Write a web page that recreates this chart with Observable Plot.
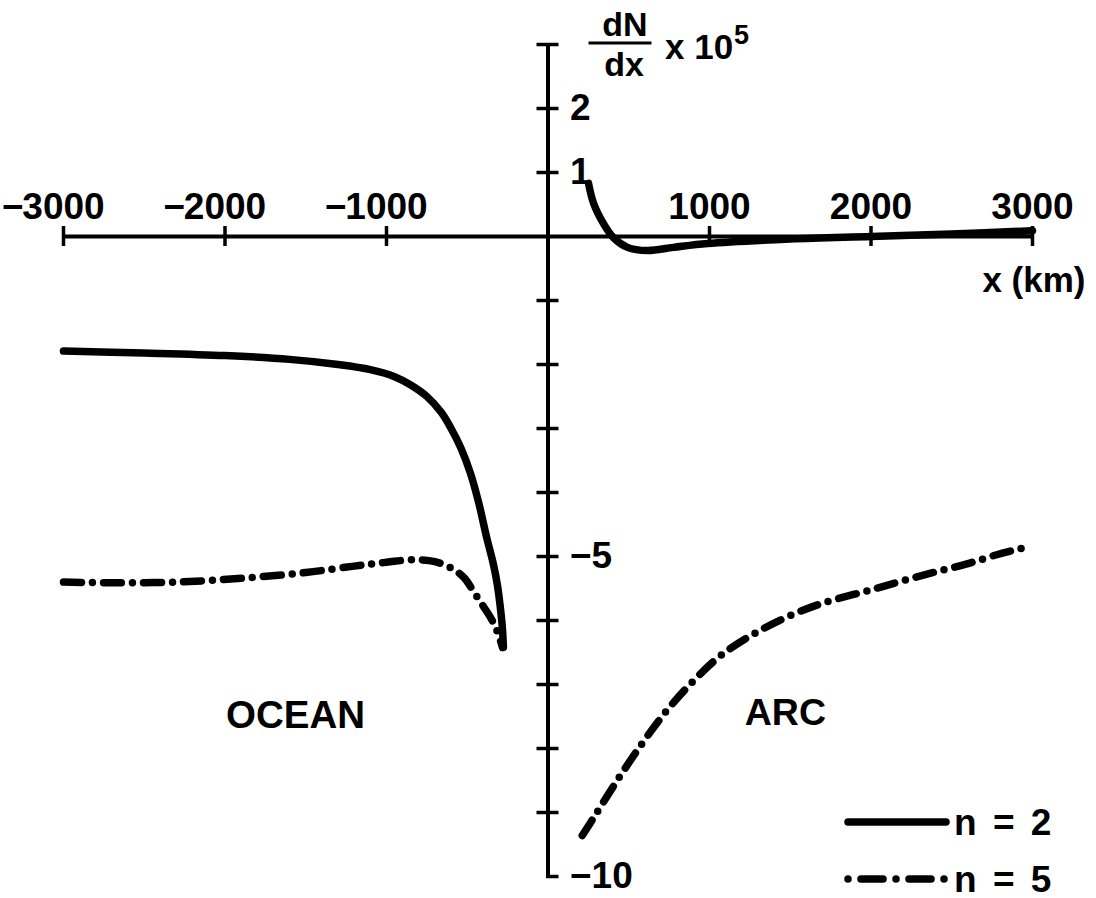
<!DOCTYPE html>
<html><head><meta charset="utf-8">
<script src="https://cdn.jsdelivr.net/npm/d3@7"></script>
<script src="https://cdn.jsdelivr.net/npm/@observablehq/plot@0.6"></script>
<style>
html,body{margin:0;padding:0;background:#fff;}
#chart svg{display:block;}
</style>
</head><body><div id="chart"></div>
<script>
// ---- data (x in km, y = dN/dx x 10^5) ----
const n2LeftX  = [-3000, -2500, -2000, -1600, -1300, -1100, -950, -850, -750, -660, -600, -540, -480, -430, -380, -340, -313, -295, -283, -276];
const n2LeftY  = [-1.79, -1.82, -1.86, -1.92, -2.00, -2.08, -2.19, -2.32, -2.50, -2.75, -3.00, -3.30, -3.70, -4.15, -4.70, -5.10, -5.45, -5.80, -6.10, -6.42];
const n2RightX = [251, 282, 344, 406, 492, 616, 777, 988, 1500, 2000, 2500, 3000];
const n2RightY = [0.83, 0.52, 0.20, -0.02, -0.17, -0.22, -0.17, -0.11, -0.04, 0.00, 0.04, 0.09];
const n5LeftX  = [-3000, -2700, -2300, -1900, -1500, -1200, -1000, -830, -700, -600, -520, -460, -400, -350, -310, -282];
const n5LeftY  = [-5.40, -5.41, -5.40, -5.34, -5.25, -5.15, -5.09, -5.05, -5.08, -5.18, -5.33, -5.55, -5.78, -5.98, -6.20, -6.42];
const n5RightX = [212, 283, 428, 583, 738, 902, 1068, 1295, 1521, 1700, 2015, 2325, 2588, 2808, 2970];
const n5RightY = [-9.36, -9.08, -8.50, -7.92, -7.40, -6.94, -6.55, -6.18, -5.90, -5.73, -5.51, -5.29, -5.12, -4.95, -4.85];

const xTicks = [-3000, -2000, -1000, 1000, 2000, 3000];
const xTickDigits = ["3000", "2000", "1000", "1000", "2000", "3000"];
const yTicks = [3, 2, 1, -1, -2, -3, -4, -5, -6, -7, -8, -9];
const yLabelValues = [2, 1, -5, -10];
const yLabelTexts = ["2", "1", "\u22125", "\u221210"];
const seriesNames = ["n = 2", "n = 5"];
const regionNames = ["OCEAN", "ARC"];

// ---- build tables ----
function seg(xs, ys, series, part) { return xs.map((x, i) => ({x, y: ys[i], series, part})); }
const curves = [
  ...seg(n2LeftX, n2LeftY, seriesNames[0], "L"),
  ...seg(n2RightX, n2RightY, seriesNames[0], "R"),
  ...seg(n5LeftX, n5LeftY, seriesNames[1], "L"),
  ...seg(n5RightX, n5RightY, seriesNames[1], "R")
];
const solid = curves.filter(d => d.series === seriesNames[0]);
const dashed = curves.filter(d => d.series === seriesNames[1]);

const FONT = "'Liberation Sans', Arial, Helvetica, sans-serif";
const DASH = "18,11,0,11";
const LEGEND_DASH = "22,13,0,13";
const kmPerPx = 6000 / 969;
const unitPerPx = 13 / 832;

const plot = Plot.plot({
  width: 1096,
  height: 898,
  marginLeft: 63,
  marginRight: 64,
  marginTop: 44,
  marginBottom: 22,
  x: {domain: [-3000, 3000], axis: null},
  y: {domain: [-10, 3], axis: null},
  style: {fontFamily: FONT, background: "#fff", color: "#000", overflow: "visible"},
  marks: [
    // axes
    Plot.ruleY([0], {x1: -3000, x2: 3000, stroke: "#000", strokeWidth: 4}),
    Plot.ruleX([0], {y1: -10, y2: 3, stroke: "#000", strokeWidth: 4}),
    // x ticks (crossing the axis)
    Plot.ruleX(xTicks, {x: d => d, y1: -10 * unitPerPx, y2: 10 * unitPerPx, stroke: "#000", strokeWidth: 3.5}),
    // y ticks
    Plot.ruleY(yTicks, {y: d => d, x1: -11 * kmPerPx, x2: 11 * kmPerPx, stroke: "#000", strokeWidth: 3.5}),
    Plot.ruleY([-10], {y: d => d, x1: -1.5 * kmPerPx, x2: 11 * kmPerPx, stroke: "#000", strokeWidth: 3.5}),
    // x tick labels: digits centered on tick, minus hanging to the left
    Plot.text(xTicks, {x: d => d, y: 0, text: (d, i) => xTickDigits[i], dy: -29, fontSize: 37, fontWeight: "bold", fill: "#000"}),
    Plot.text(xTicks.filter(d => d < 0), {x: d => d, y: 0, text: () => "\u2212", textAnchor: "end", dx: -40, dy: -29, fontSize: 37, fontWeight: "bold", fill: "#000"}),
    // y tick labels
    Plot.text(yLabelValues, {x: 0, y: d => d, text: (d, i) => yLabelTexts[i], textAnchor: "start", dx: 22, fontSize: 37, fontWeight: "bold", fill: "#000"}),
    // axis titles
    Plot.text(["dN"], {x: 0, y: 3, text: d => d, dx: 77, dy: -19, fontSize: 34, fontWeight: "bold", fill: "#000"}),
    Plot.text(["dx"], {x: 0, y: 3, text: d => d, dx: 76, dy: 21, fontSize: 34, fontWeight: "bold", fill: "#000"}),
    Plot.text(["x 10"], {x: 0, y: 3, text: d => d, textAnchor: "start", dx: 117, dy: 3, fontSize: 35, fontWeight: "bold", fill: "#000"}),
    Plot.text(["5"], {x: 0, y: 3, text: d => d, textAnchor: "start", dx: 186, dy: -9, fontSize: 27, fontWeight: "bold", fill: "#000"}),
    Plot.text(["x (km)"], {x: 3000, y: 0, text: d => d, textAnchor: "end", dx: 53, dy: 44, fontSize: 35, fontWeight: "bold", fill: "#000"}),
    // region labels
    Plot.text([regionNames[0]], {x: -1563, y: -7.48, text: d => d, fontSize: 38.5, fontWeight: "bold", fill: "#000"}),
    Plot.text([regionNames[1]], {x: 1470, y: -7.45, text: d => d, fontSize: 37.5, fontWeight: "bold", fill: "#000"}),
    // curves
    Plot.line(solid, {x: "x", y: "y", z: "part", curve: "catmull-rom", stroke: "#000", strokeWidth: 7.5, strokeLinecap: "round", strokeLinejoin: "round"}),
    Plot.line(dashed, {x: "x", y: "y", z: "part", curve: "catmull-rom", stroke: "#000", strokeWidth: 7.5, strokeLinecap: "round", strokeLinejoin: "round", strokeDasharray: DASH})
  ]
});
document.getElementById("chart").appendChild(plot);

// ---- legend and fraction bar (positioned from the plot's scales) ----
const sx = plot.scale("x"), sy = plot.scale("y");
const svg = d3.select(plot);
const ax0 = sx.apply(0), ay3 = sy.apply(3);
svg.append("line").attr("x1", ax0 + 41).attr("x2", ax0 + 104).attr("y1", ay3 - 1).attr("y2", ay3 - 1)
  .attr("stroke", "#000").attr("stroke-width", 3);

const xr = sx.apply(3000), yb = sy.apply(-10);
const legend = svg.append("g").attr("font-family", FONT).attr("font-weight", "bold").attr("font-size", 37)
  .attr("text-anchor", "start").attr("fill", "#000");
[[seriesNames[0], null, -54], [seriesNames[1], LEGEND_DASH, 3]].forEach(([name, dash, off]) => {
  const yy = yb + off;
  const l = legend.append("line").attr("x1", xr - 184).attr("x2", xr - 86).attr("y1", yy).attr("y2", yy)
    .attr("stroke", "#000").attr("stroke-width", 7.5).attr("stroke-linecap", "round");
  if (dash) l.attr("stroke-dasharray", dash).attr("stroke-dashoffset", 35);
  legend.append("text").attr("x", xr - 78).attr("y", yy + 13).attr("text-anchor", "start")
    .style("word-spacing", "6px").text(name);
});
</script>
</body></html>
